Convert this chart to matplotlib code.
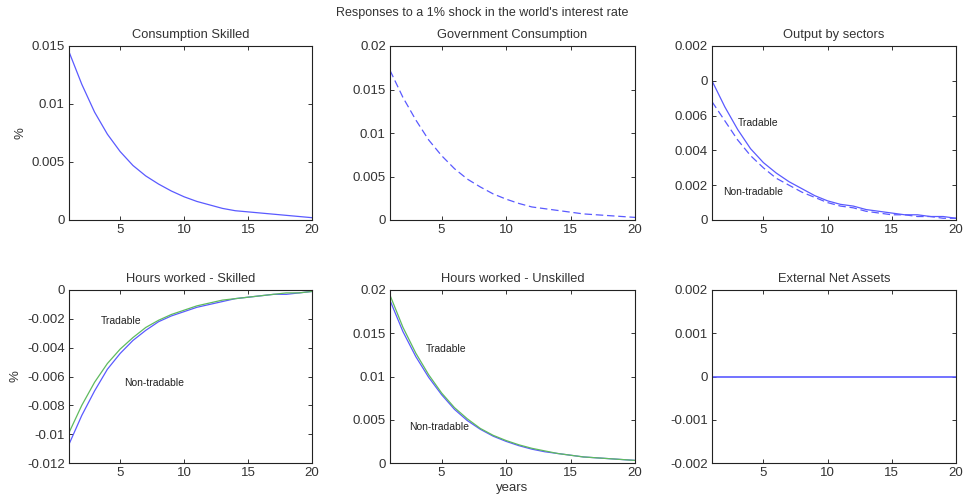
import numpy as np
import matplotlib
matplotlib.use('Agg')
import matplotlib.pyplot as plt

plt.rcParams['font.family'] = ['Liberation Sans', 'DejaVu Sans']

years = np.arange(1, 21)

cons_skilled = [0.0145, 0.0117, 0.0093, 0.0074, 0.0059, 0.0047, 0.0038, 0.0031, 0.0025, 0.0020,
                0.0016, 0.0013, 0.0010, 0.0008, 0.0007, 0.0006, 0.0005, 0.0004, 0.0003, 0.0002]
gov_cons = [0.0172, 0.0141, 0.0115, 0.0092, 0.0074, 0.0059, 0.0047, 0.0038, 0.0030, 0.0024,
            0.0019, 0.0015, 0.0013, 0.0011, 0.0009, 0.0007, 0.0006, 0.0005, 0.0004, 0.0003]
out_trad = [0.0080, 0.0065, 0.0052, 0.0041, 0.0033, 0.0027, 0.0022, 0.0018, 0.0014, 0.0011,
            0.0009, 0.0008, 0.0006, 0.0005, 0.0004, 0.0003, 0.0003, 0.0002, 0.0002, 0.0001]
out_nontrad = [0.0068, 0.0057, 0.0046, 0.0037, 0.0030, 0.0024, 0.0020, 0.0016, 0.0013, 0.0010,
               0.0008, 0.0007, 0.0005, 0.0004, 0.0003, 0.0003, 0.0002, 0.0002, 0.0001, 0.0001]
hs_trad = [-0.0099, -0.0080, -0.0064, -0.0051, -0.0041, -0.0033, -0.0026, -0.0021, -0.0017, -0.0014,
           -0.0011, -0.0009, -0.0007, -0.0006, -0.0005, -0.0004, -0.0003, -0.0002, -0.0002, -0.0001]
hs_nontrad = [-0.0107, -0.0087, -0.0070, -0.0055, -0.0044, -0.0035, -0.0028, -0.0022, -0.0018, -0.0015,
              -0.0012, -0.0010, -0.0008, -0.0006, -0.0005, -0.0004, -0.0003, -0.0003, -0.0002, -0.0001]
hu_trad = [0.0194, 0.0157, 0.0127, 0.0102, 0.0081, 0.0064, 0.0051, 0.0040, 0.0032, 0.0026,
           0.0021, 0.0017, 0.0014, 0.0011, 0.0009, 0.0007, 0.0006, 0.0005, 0.0004, 0.0003]
hu_nontrad = [0.0188, 0.0152, 0.0123, 0.0099, 0.0079, 0.0062, 0.0049, 0.0039, 0.0031, 0.0025,
              0.0020, 0.0016, 0.0013, 0.0011, 0.0009, 0.0007, 0.0006, 0.0005, 0.0004, 0.0003]
ext_assets = [0.0] * 20

out_ticks = [0, 0.002, 0.004, 0.006, 0.008, 0.010]
out_ticklabels = ['0', '0.002', '0.004', '0.006', '0', '0.002']

blue = '#5a5aff'
green = '#5fba5f'
txt = '#333333'

fig = plt.figure(figsize=(9.64, 5.01), dpi=100)
W, H = 964., 501.
lefts = [69, 390, 712]
widths = [243, 245, 244]
tops = [46, 290]
heights = [174, 173]

axes = []
for r in range(2):
    for c in range(3):
        ax = fig.add_axes([lefts[c] / W, 1 - (tops[r] + heights[r]) / H, widths[c] / W, heights[r] / H])
        ax.set_xlim(1, 20)
        ax.set_xticks([5, 10, 15, 20])
        ax.tick_params(direction='in', top=True, right=True, labelsize=9.5, colors=txt,
                       labelcolor=txt, length=3, width=0.7, pad=3)
        for s in ax.spines.values():
            s.set_color('#222222')
            s.set_linewidth(0.8)
        axes.append(ax)

def title(ax, s):
    ax.set_title(s, fontsize=9.3, color=txt, pad=6)

ax = axes[0]
ax.plot(years, cons_skilled, color=blue, lw=0.9)
ax.set_ylim(0, 0.015)
ax.set_yticks([0, 0.005, 0.01, 0.015])
ax.set_yticklabels(['0', '0.005', '0.01', '0.015'])
ax.set_ylabel('%', fontsize=9.5, color=txt)
title(ax, 'Consumption Skilled')

ax = axes[1]
ax.plot(years, gov_cons, color=blue, lw=0.9, ls=(0, (6, 3)))
ax.set_ylim(0, 0.02)
ax.set_yticks([0, 0.005, 0.01, 0.015, 0.02])
ax.set_yticklabels(['0', '0.005', '0.01', '0.015', '0.02'])
title(ax, 'Government Consumption')

ax = axes[2]
ax.plot(years, out_trad, color=blue, lw=0.9)
ax.plot(years, out_nontrad, color=blue, lw=0.9, ls=(0, (6, 3)))
ax.set_ylim(0, 0.010)
ax.set_yticks(out_ticks)
ax.set_yticklabels(out_ticklabels)
ax.text(3.0, 0.00557, 'Tradable', fontsize=7.5, color='#222222', va='center')
ax.text(1.9, 0.0016, 'Non-tradable', fontsize=7.5, color='#222222', va='center')
title(ax, 'Output by sectors')

ax = axes[3]
ax.plot(years, hs_nontrad, color=blue, lw=0.9)
ax.plot(years, hs_trad, color=green, lw=0.9)
ax.set_ylim(-0.012, 0)
ax.set_yticks([-0.012, -0.01, -0.008, -0.006, -0.004, -0.002, 0])
ax.set_yticklabels(['-0.012', '-0.01', '-0.008', '-0.006', '-0.004', '-0.002', '0'])
ax.set_ylabel('%', fontsize=9.5, color=txt)
ax.text(3.5, -0.00215, 'Tradable', fontsize=7.5, color='#222222', va='center')
ax.text(5.3, -0.00645, 'Non-tradable', fontsize=7.5, color='#222222', va='center')
title(ax, 'Hours worked - Skilled')

ax = axes[4]
ax.plot(years, hu_nontrad, color=blue, lw=0.9)
ax.plot(years, hu_trad, color=green, lw=0.9)
ax.set_ylim(0, 0.02)
ax.set_yticks([0, 0.005, 0.01, 0.015, 0.02])
ax.set_yticklabels(['0', '0.005', '0.01', '0.015', '0.02'])
ax.set_xlabel('years', fontsize=9.5, color=txt, labelpad=2)
ax.text(3.8, 0.0132, 'Tradable', fontsize=7.5, color='#222222', va='center')
ax.text(2.5, 0.0042, 'Non-tradable', fontsize=7.5, color='#222222', va='center')
title(ax, 'Hours worked - Unskilled')

ax = axes[5]
ax.plot(years, ext_assets, color=blue, lw=1.2)
ax.set_ylim(-0.002, 0.002)
ax.set_yticks([-0.002, -0.001, 0, 0.001, 0.002])
ax.set_yticklabels(['-0.002', '-0.001', '0', '0.001', '0.002'])
title(ax, 'External Net Assets')

fig.text(482 / W, 1 - 13 / H, "Responses to a 1% shock in the world's interest rate",
         ha='center', va='center', fontsize=9, color=txt)

fig.savefig('out.png', dpi=100)
